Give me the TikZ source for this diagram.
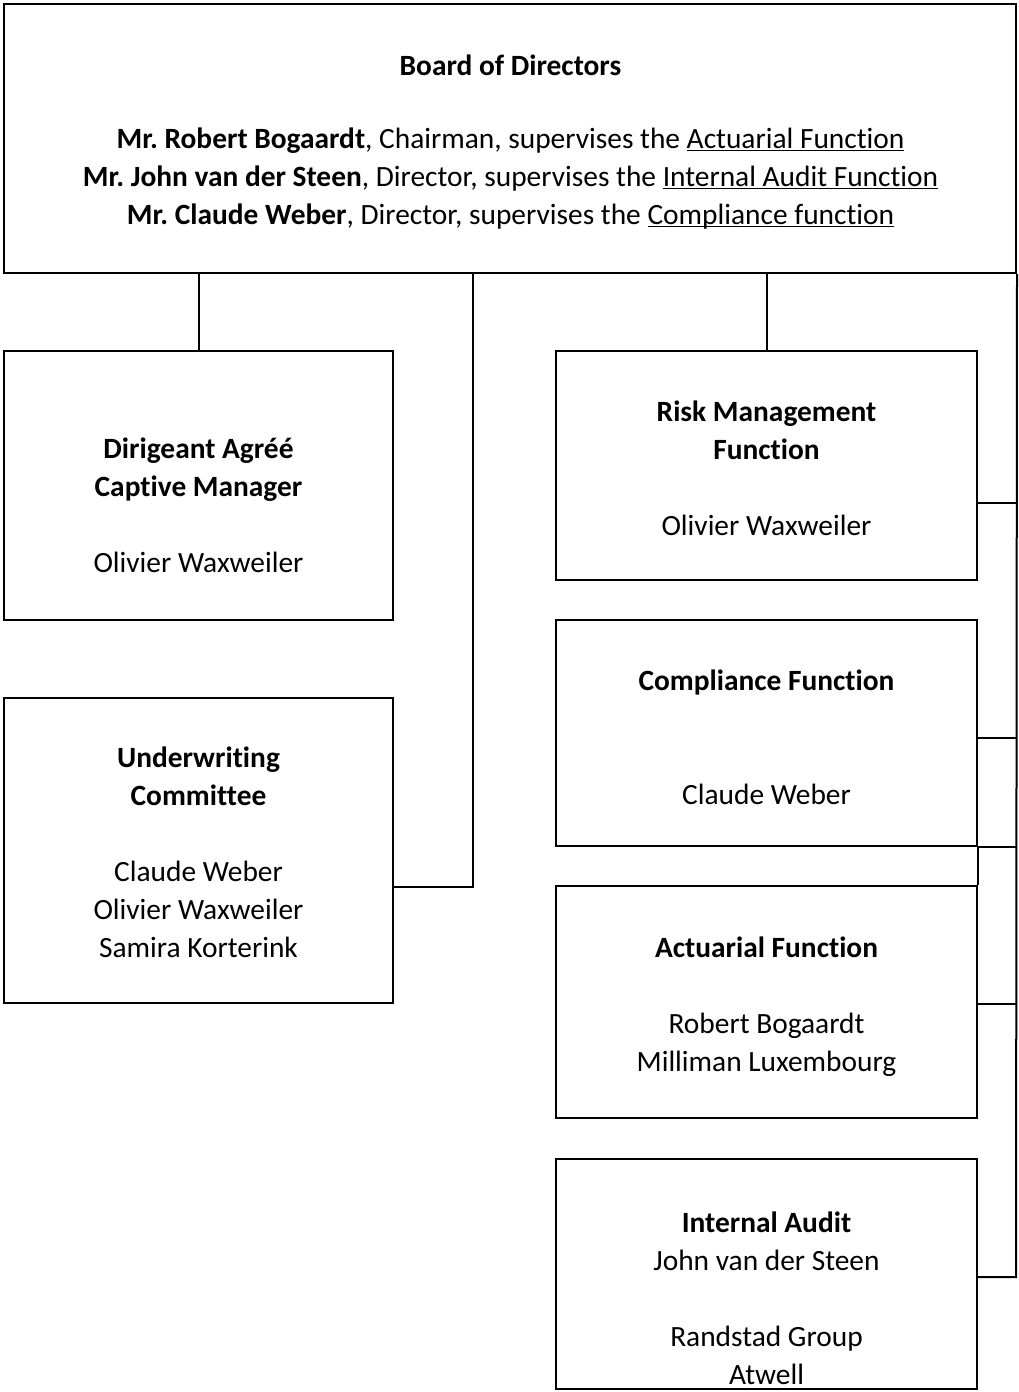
\documentclass[tikz,border=0pt]{standalone}
\usepackage{fontspec}
\setmainfont[Ligatures={NoCommon}]{Carlito}
\frenchspacing
\newcommand\ulfixed[1]{\underline{\smash{#1}}}
\begin{document}
\begin{tikzpicture}[x=1pt,y=-1pt,
  box/.style={draw=black,line width=2pt,inner sep=0pt,rectangle},
  conn/.style={draw=black,line width=2pt},
  txt/.style={align=center,inner sep=0pt,font=\fontsize{29.4}{38}\selectfont}]
\useasboundingbox (0,0) rectangle (1018,1392);
% boxes
\node[box,minimum width=1012pt,minimum height=269pt] (board) at (510,138.5) {};
\node[box,minimum width=389pt,minimum height=269pt] (dir) at (198.5,485.5) {};
\node[box,minimum width=389pt,minimum height=305pt] (uw) at (198.5,850.5) {};
\node[box,minimum width=421pt,minimum height=229pt] (risk) at (766.5,465.5) {};
\node[box,minimum width=421pt,minimum height=226pt] (comp) at (766.5,733) {};
\node[box,minimum width=421pt,minimum height=232pt] (act) at (766.5,1002) {};
\node[box,minimum width=421pt,minimum height=230pt] (audit) at (766.5,1274) {};
% texts
\node[txt] (tboard) at (510.5,65) {\textbf{Board of Directors}};
\node[txt] (tmembers) at (510.5,179) {\textbf{Mr. Robert Bogaardt}, Chairman, supervises the \ulfixed{Actuarial Function}\\
\textbf{Mr. John van der Steen}, Director, supervises the \ulfixed{Internal Audit Function}\\
\textbf{Mr. Claude Weber}, Director, supervises the \ulfixed{Compliance function}};
\node[txt] (tdir) at (198.5,505) {\textbf{Dirigeant Agréé}\\\textbf{Captive Manager}\\[38pt]Olivier Waxweiler};
\node[txt] (tuw) at (198.5,852.5) {\textbf{Underwriting}\\\textbf{Committee}\\[38pt]Claude Weber\\Olivier Waxweiler\\Samira Korterink};
\node[txt] (trisk) at (766.5,468) {\textbf{Risk Management}\\\textbf{Function}\\[38pt]Olivier Waxweiler};
\node[txt] (tcomp) at (766.5,737) {\textbf{Compliance Function}\\[76pt]Claude Weber};
\node[txt] (tact) at (766.5,1007) {\textbf{Actuarial Function}\\[38pt]Robert Bogaardt\\Milliman Luxembourg};
\node[txt] (taudit) at (766.5,1298) {\textbf{Internal Audit}\\John van der Steen\\[38pt]Randstad Group\\Atwell};
% connector coordinates
\coordinate (uwj) at (473,887);
\coordinate (bus) at (1016,1277);
% connectors
\draw[conn] (dir.north) -- (dir.north |- board.south);
\draw[conn] (risk.north) -- (risk.north |- board.south);
\draw[conn] (uw.east |- uwj) -- (uwj) -- (uwj |- board.south);
\draw[conn] (board.south east) -- (bus) -- (bus -| audit.east);
\draw[conn] (risk.east |- 0,503) -- (bus |- 0,503);
\draw[conn] (comp.east |- 0,738) -- (bus |- 0,738);
\draw[conn] (comp.south east) -- (comp.south east -| bus);
\draw[conn] (comp.south east) -- (act.north east);
\draw[conn] (act.east |- 0,1004) -- (bus |- 0,1004);
\end{tikzpicture}
\end{document}
